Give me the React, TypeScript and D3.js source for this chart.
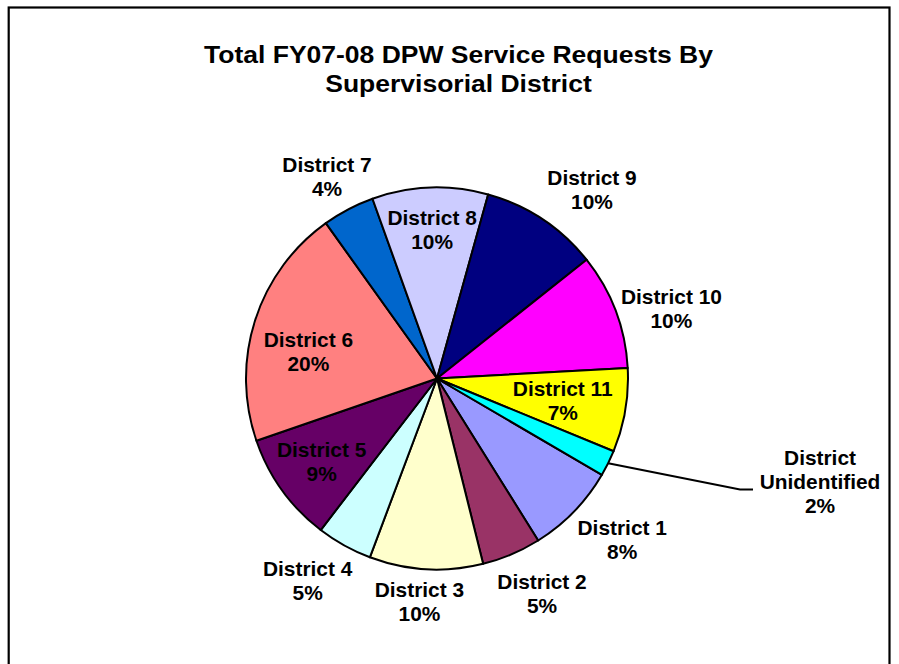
import React from "react";
import * as d3 from "d3";

const categories = [
  "District 1", "District 2", "District 3", "District 4", "District 5", "District 6",
  "District 7", "District 8", "District 9", "District 10", "District 11", "District Unidentified",
];
const shares = [7.7, 5.0, 9.6, 4.7, 9.3, 20.4, 4.4, 9.8, 10.0, 9.8, 7.1, 2.2];
const labelLines = [
  ["District 1"], ["District 2"], ["District 3"], ["District 4"], ["District 5"], ["District 6"],
  ["District 7"], ["District 8"], ["District 9"], ["District 10"], ["District 11"], ["District", "Unidentified"],
];
const titleLines = ["Total FY07-08 DPW Service Requests By", "Supervisorial District"];

const colors = [
  "#9999FF", "#993366", "#FFFFCC", "#CCFFFF", "#660066", "#FF8080",
  "#0066CC", "#CCCCFF", "#000080", "#FF00FF", "#FFFF00", "#00FFFF",
];

// label placement (polar, relative to each slice's mid angle)
const labelRadius = [245.6, 239.8, 224.2, 239.8, 142.5, 131.4, 229.3, 148.6, 244, 244.6, 127.7, 396.6];
const labelAngleShift = [-3.1, -3.0, 1.2, 3.6, -0.2, -5.9, -1.0, 0.2, 5.9, 4.2, 0.5, -11.3];

const W = 899;
const H = 664;
const CX = 437;
const CY = 378.5;
const R = 191;
const START_DEG = 120.3;
const FONT = "'Liberation Sans', Arial, Helvetica, sans-serif";
const LH = 24;

export default function App() {
  const start = (START_DEG * Math.PI) / 180;
  const pie = d3.pie<number>().sort(null).value((d) => d).startAngle(start).endAngle(start + 2 * Math.PI);
  const arcs = pie(shares);
  const arc = d3.arc<d3.PieArcDatum<number>>().innerRadius(0).outerRadius(R);
  const total = d3.sum(shares);
  const fmt = d3.format(".0%");

  const polar = (r: number, a: number) => [r * Math.sin(a), -r * Math.cos(a)];

  return (
    <svg width={W} height={H} style={{ position: "absolute", left: 0, top: 0, background: "#fff" }}>
      <rect x={8.7} y={7.5} width={880.8} height={700} fill="#fff" stroke="#000" strokeWidth={2.2} />
      <g fontFamily={FONT} fontWeight="bold" fill="#000" textAnchor="middle">
        {titleLines.map((t, i) => (
          <g key={i} transform={`translate(458.5, ${63.3 + i * 28.6}) scale(1.138,1)`}>
            <text x={0} y={0} fontSize={23.3}>{t}</text>
          </g>
        ))}
      </g>
      <g transform={`translate(${CX},${CY})`}>
        {arcs.map((a, i) => (
          <path key={categories[i]} d={arc(a) || ""} fill={colors[i]} stroke="#000" strokeWidth={2} strokeLinejoin="round" />
        ))}
        {arcs.map((a, i) => {
          const mid = (a.startAngle + a.endAngle) / 2;
          const ang = mid + (labelAngleShift[i] * Math.PI) / 180;
          const [lx, ly] = polar(labelRadius[i], ang);
          const lines = [...labelLines[i], fmt(a.value / total)];
          const b0 = ly + 7.2 - ((lines.length - 1) * LH) / 2;
          let leader = null;
          if (labelLines[i].length > 1) {
            const [ex, ey] = polar(R, mid);
            const halfW = 64;
            const yL = ly + 8;
            leader = (
              <polyline
                points={`${ex},${ey} ${lx - halfW - 16},${yL} ${lx - halfW - 3},${yL}`}
                fill="none"
                stroke="#000"
                strokeWidth={2}
              />
            );
          }
          return (
            <g key={"l" + i}>
              {leader}
              {lines.map((t, j) => (
                <g key={j} transform={`translate(${lx},${b0 + j * LH}) scale(1.045,1)`}>
                  <text x={0} y={0} fontFamily={FONT} fontWeight="bold" fontSize={20} textAnchor="middle" fill="#000">
                    {t}
                  </text>
                </g>
              ))}
            </g>
          );
        })}
      </g>
    </svg>
  );
}
